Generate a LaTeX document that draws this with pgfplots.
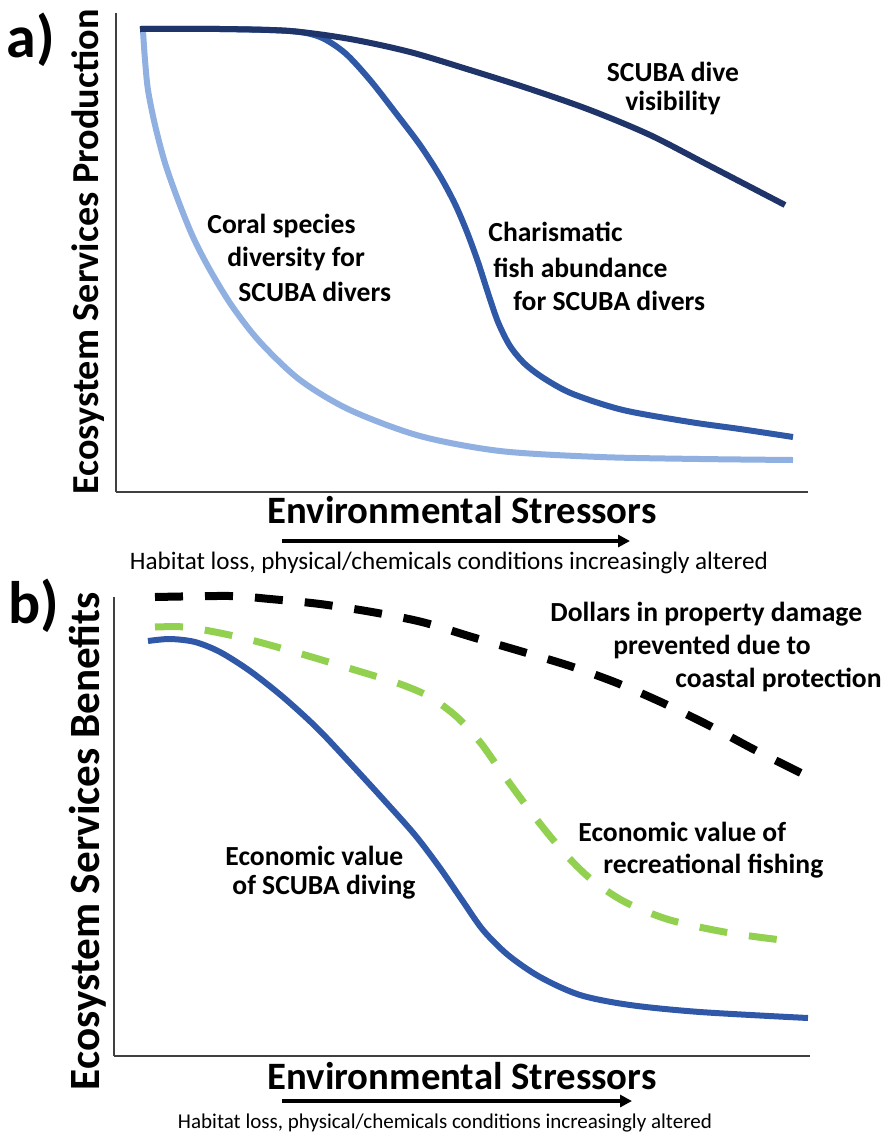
\documentclass[border=0pt]{standalone}
\usepackage{pgfplots}
\pgfplotsset{compat=1.18}
\usepackage{fontspec}
\setmainfont{Carlito}
\usetikzlibrary{arrows.meta}
\definecolor{navy}{HTML}{1F3468}
\definecolor{fishblue}{HTML}{2F58A6}
\definecolor{coral}{HTML}{8FB0E0}
\definecolor{bblue}{HTML}{3058A8}
\definecolor{lgreen}{HTML}{92D050}
\begin{document}
\begin{tikzpicture}
\useasboundingbox (0,0) rectangle (444.5pt,-568pt);
\pgfplotsset{myax/.style={anchor=south west, scale only axis, axis lines=left,
  axis line style={-, line width=1pt, draw=black!75}, xtick=\empty, ytick=\empty, clip=false}}
% ---------------- panel a
\begin{axis}[myax, at={(58pt,-246pt)}, width=346pt, height=239.5pt,
  xmin=116, xmax=808, ymin=-492, ymax=-13]
\addplot[coral, line width=3pt, smooth] coordinates {
(143,-31) (145,-60) (148,-90) (155,-125) (165,-163) (178,-200) (193,-237) (210,-270)
(232,-306) (260,-342) (300,-380) (350,-410) (420,-436) (500,-451) (600,-457) (700,-459) (793,-460)};
\addplot[fishblue, line width=3pt, smooth] coordinates {
(140,-29) (220,-29) (290,-31) (320,-37) (345,-53) (370,-80) (395,-112) (420,-145)
(440,-176) (455,-204) (467,-232) (478,-262) (488,-293) (498,-322) (510,-346) (525,-364)
(545,-379) (573,-394) (623,-410) (690,-422) (740,-429) (793,-437)};
\addplot[navy, line width=3pt, smooth] coordinates {
(140,-29) (220,-29) (290,-31) (350,-39) (410,-52) (470,-70) (530,-89) (590,-110)
(650,-135) (710,-166) (785,-205)};
\end{axis}
% ---------------- panel b
\begin{axis}[myax, at={(57pt,-528pt)}, width=348pt, height=229.5pt,
  xmin=114, xmax=810, ymin=-1056, ymax=-597]
\addplot[black, line width=4pt, smooth, dash pattern=on 14pt off 11pt] coordinates {
(155,-597) (230,-596) (270,-599) (320,-604) (372,-612) (422,-622) (472,-637) (520,-651)
(570,-666) (617,-683) (663,-703) (710,-726) (755,-750) (805,-775)};
\addplot[lgreen, line width=3.5pt, smooth, dash pattern=on 14pt off 11pt] coordinates {
(155,-627) (185,-627) (220,-633) (255,-641) (305,-655) (355,-670) (400,-684) (430,-697)
(457,-717) (480,-742) (500,-770) (522,-800) (545,-830) (568,-857) (592,-880) (625,-902)
(670,-920) (730,-933) (790,-941)};
\addplot[bblue, line width=3pt, smooth] coordinates {
(148,-641) (170,-639) (195,-642) (220,-652) (250,-671) (283,-697) (317,-728) (350,-763)
(383,-799) (415,-835) (440,-868) (462,-900) (483,-930) (508,-955) (540,-977) (580,-995)
(630,-1005) (700,-1012) (808,-1018)};
\end{axis}
% ---------------- texts
\begin{scope}[x=0.5pt,y=-0.5pt]
\tikzset{lab/.style={font=\bfseries\fontsize{13.8}{16}\selectfont, inner sep=0pt, anchor=west}}
\node[font=\bfseries\fontsize{30}{34}\selectfont] at (31,40) {a)};
\node[font=\bfseries\fontsize{30}{34}\selectfont] at (34,606) {b)};
\node[rotate=90, inner sep=0pt] at (88,252) {\resizebox{242.5pt}{!}{\bfseries Ecosystem Services Production}};
\node[rotate=90, inner sep=0pt] at (88,841) {\resizebox{249pt}{!}{\bfseries Ecosystem Services Benefits}};
\node[inner sep=0pt] at (462,510) {\resizebox{194.5pt}{!}{\bfseries Environmental Stressors}};
\node[inner sep=0pt] at (462,1076) {\resizebox{194.5pt}{!}{\bfseries Environmental Stressors}};
\draw[line width=1.8pt, -{Triangle[length=6pt,width=6pt]}] (282,541) -- (630,541);
\draw[line width=1.8pt, -{Triangle[length=6pt,width=6pt]}] (282,1101) -- (632,1101);
\node[inner sep=0pt] at (449,563) {\resizebox{319pt}{!}{Habitat loss, physical/chemicals conditions increasingly altered}};
\node[inner sep=0pt] at (445,1123) {\resizebox{267pt}{!}{Habitat loss, physical/chemicals conditions increasingly altered}};
% panel a labels
\node[lab, anchor=center] at (673,72) {SCUBA dive};
\node[lab, anchor=center] at (673,103) {visibility};
\node[lab] at (488,232) {Charismatic};
\node[lab] at (493,268) {fish abundance};
\node[lab] at (513,301) {for SCUBA divers};
\node[lab] at (207,226) {Coral species};
\node[lab] at (227,259) {diversity for};
\node[lab] at (238,292) {SCUBA divers};
% panel b labels
\node[lab] at (550,614) {Dollars in property damage};
\node[lab] at (613,647) {prevented due to};
\node[lab] at (675,680) {coastal protection};
\node[lab] at (578,832) {Economic value of};
\node[lab] at (603,866) {recreational fishing};
\node[lab] at (225,856) {Economic value};
\node[lab] at (232,887) {of SCUBA diving};
\end{scope}
\end{tikzpicture}
\end{document}
